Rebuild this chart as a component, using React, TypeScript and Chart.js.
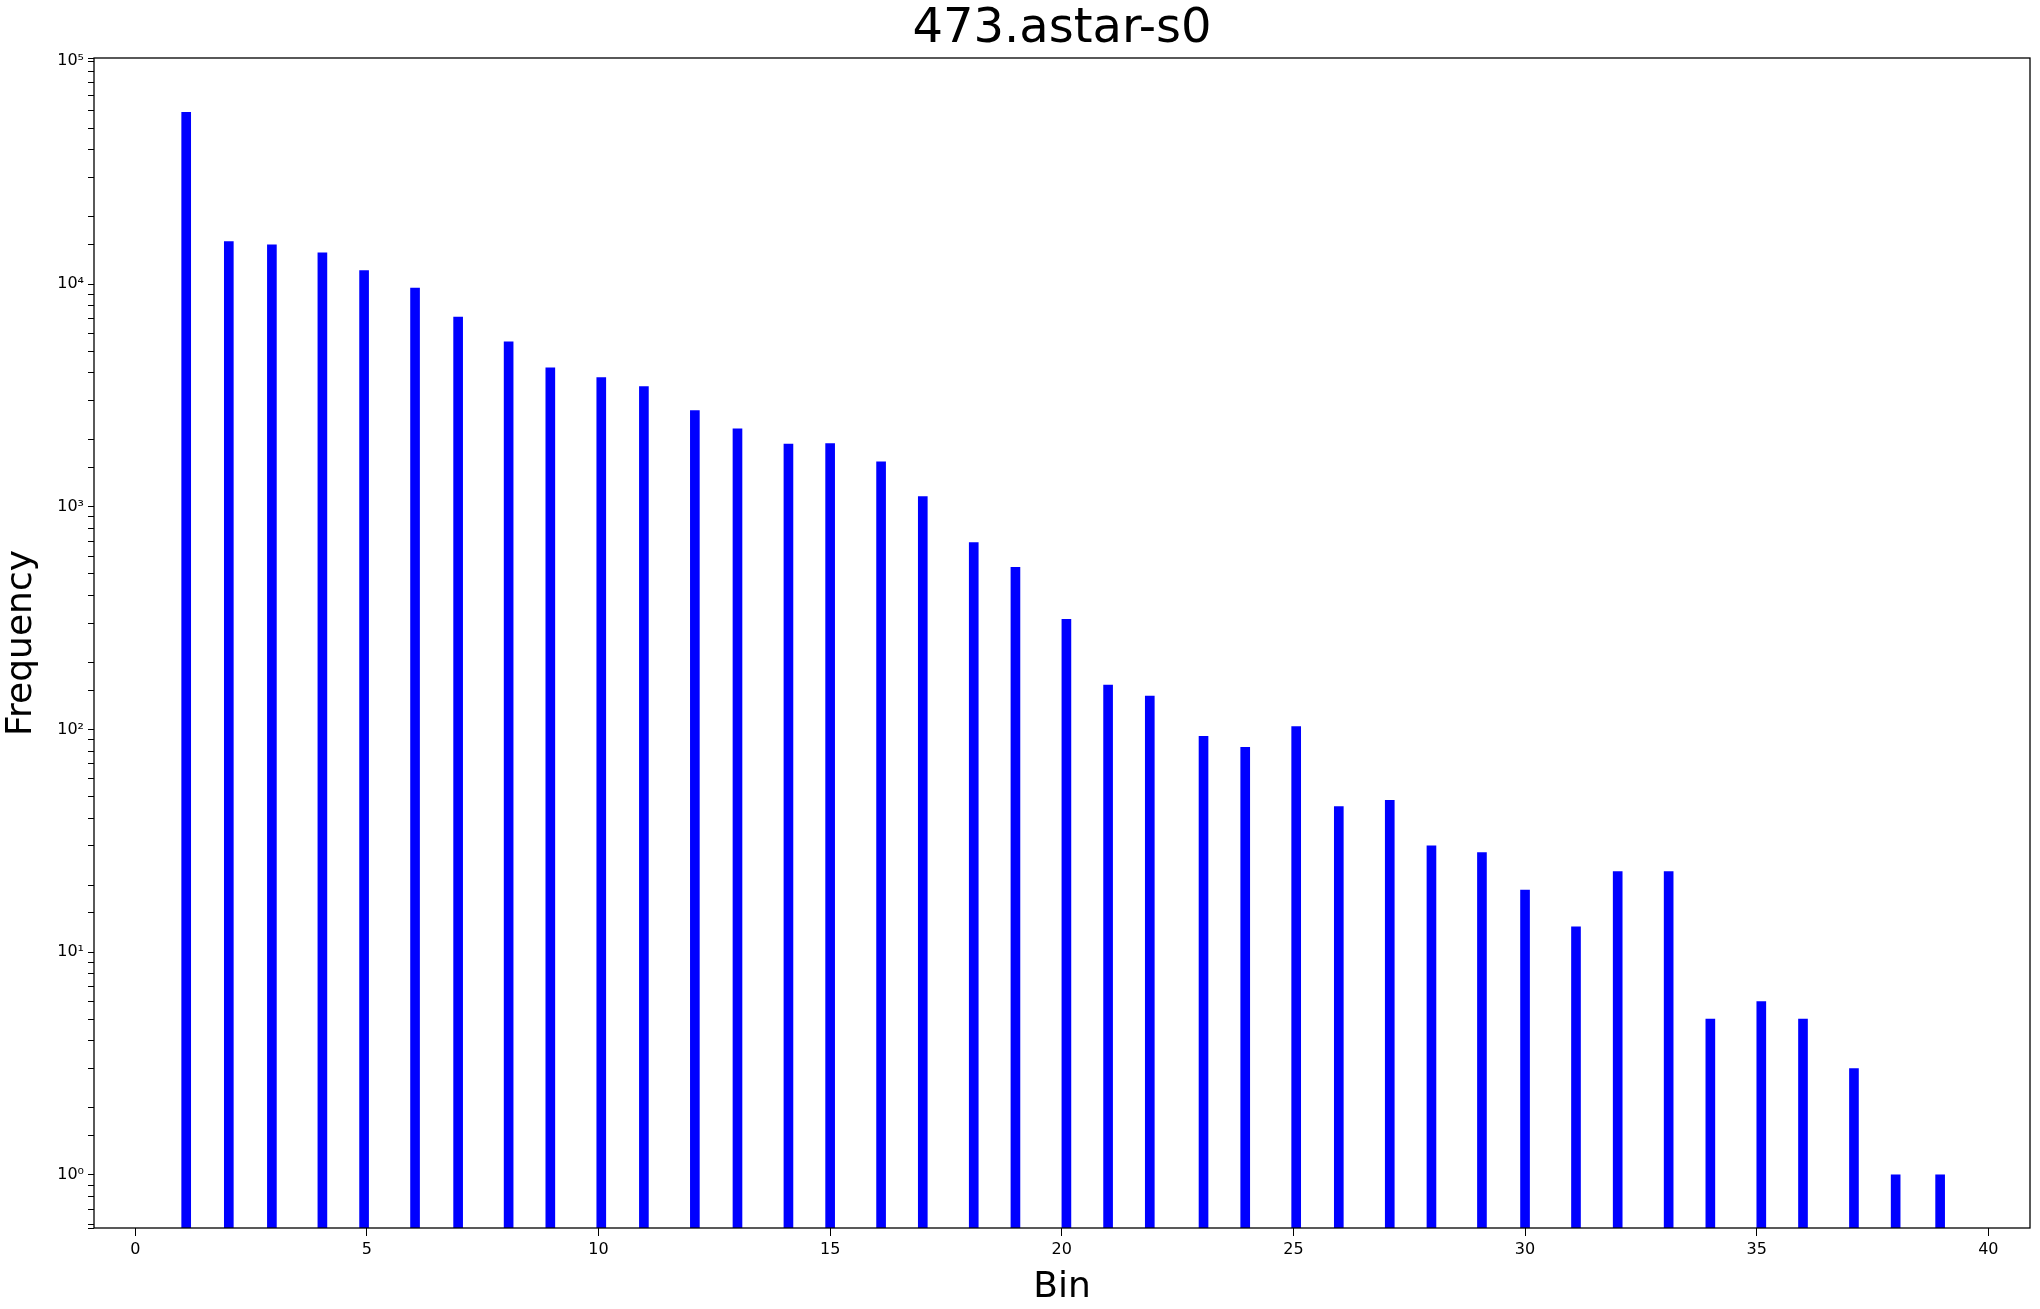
import React, { useEffect, useRef } from 'react';
import { Chart, registerables } from 'chart.js';

Chart.register(...registerables);

// bar positions (bin centres) and counts
const binPositions = [1.1, 2.02, 2.95, 4.04, 4.94, 6.04, 6.97, 8.06, 8.96, 10.06, 10.98, 12.08, 13.0, 14.1, 15.0, 16.1, 17.0, 18.1, 19.0, 20.1, 21.0, 21.9, 23.06, 23.96, 25.06, 25.98, 27.08, 27.98, 29.07, 30.0, 31.1, 32.0, 33.1, 34.0, 35.1, 36.0, 37.1, 38.0, 38.96];
const frequencies = [59000, 15500, 15000, 13800, 11500, 9600, 7100, 5500, 4200, 3800, 3460, 2700, 2240, 1910, 1920, 1590, 1110, 690, 535, 312, 158, 141, 93, 83, 103, 45, 48, 30, 28, 19, 13, 23, 23, 5, 6, 5, 3, 1, 1];
const xTicks = [0, 5, 10, 15, 20, 25, 30, 35, 40];
const superscripts: Record<string, string> = { '0': '⁰', '1': '¹', '2': '²', '3': '³', '4': '⁴', '5': '⁵' };

const FONT = "'DejaVu Sans', sans-serif";

const framePlugin = {
  id: 'frame',
  afterDraw(chart: Chart) {
    const { ctx, chartArea: a } = chart;
    ctx.save();
    ctx.strokeStyle = '#000';
    ctx.lineWidth = 1.3;
    ctx.strokeRect(a.left, a.top, a.right - a.left, a.bottom - a.top);
    ctx.fillStyle = '#000';
    ctx.font = `48px ${FONT}`;
    ctx.textAlign = 'center';
    ctx.textBaseline = 'middle';
    ctx.fillText('473.astar-s0', (a.left + a.right) / 2, 30);
    ctx.restore();
  },
};

export default function App() {
  const ref = useRef<HTMLCanvasElement | null>(null);

  useEffect(() => {
    document.body.style.margin = '0';
    if (!ref.current) return;
    const chart = new Chart(ref.current, {
      type: 'bar',
      data: {
        datasets: [
          {
            data: binPositions.map((x, i) => ({ x, y: frequencies[i] })),
            backgroundColor: '#0000ff',
            barThickness: 9,
          },
        ],
      },
      options: {
        animation: false,
        responsive: false,
        layout: { padding: { top: 58, right: 10, left: 0, bottom: 0 } },
        plugins: { legend: { display: false }, tooltip: { enabled: false } },
        scales: {
          x: {
            type: 'linear',
            offset: false,
            min: -0.89,
            max: 40.9,
            afterBuildTicks: (s: any) => { s.ticks = xTicks.map(v => ({ value: v })); },
            afterFit: (s: any) => { s.height = 81; },
            grid: { display: true, offset: false, drawOnChartArea: false, tickLength: 8, color: '#000' },
            border: { display: false },
            ticks: { color: '#000', font: { size: 16, family: FONT }, maxRotation: 0, padding: 4 },
            title: { display: true, text: 'Bin', color: '#000', font: { size: 36, family: FONT }, padding: { top: 0, bottom: 0 } },
          },
          y: {
            type: 'logarithmic',
            min: 0.577,
            max: 103500,
            afterFit: (s: any) => { s.width = 94; },
            grid: { display: true, drawOnChartArea: false, tickLength: 6, color: '#000' },
            border: { display: false },
            ticks: {
              color: '#000',
              font: { size: 16, family: FONT },
              autoSkip: false,
              padding: 4,
              callback: (v: any) => {
                const e = Math.log10(Number(v));
                if (Math.abs(e - Math.round(e)) > 1e-9) return '';
                return '10' + String(Math.round(e)).split('').map(c => superscripts[c] ?? c).join('');
              },
            },
            title: { display: true, text: 'Frequency', color: '#000', font: { size: 36, family: FONT }, padding: { top: 0, bottom: 4 } },
          },
        },
      },
      plugins: [framePlugin],
    });
    return () => chart.destroy();
  }, []);

  return (
    <div style={{ width: 2040, height: 1309, background: '#fff' }}>
      <canvas ref={ref} width={2040} height={1309} />
    </div>
  );
}
